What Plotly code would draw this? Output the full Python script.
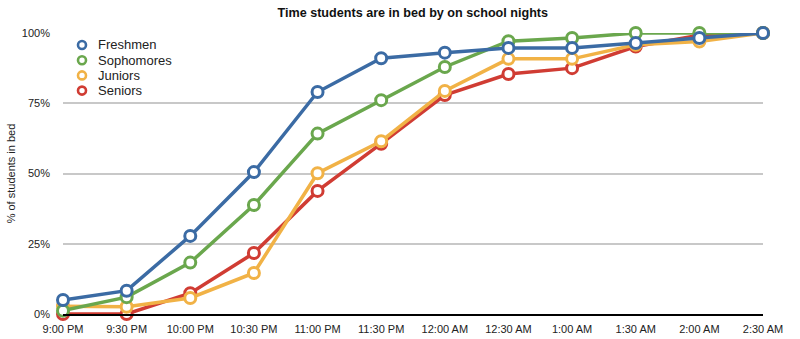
import plotly.graph_objects as go

# Bedtime slots on school nights
times = ["9:00 PM", "9:30 PM", "10:00 PM", "10:30 PM", "11:00 PM", "11:30 PM",
         "12:00 AM", "12:30 AM", "1:00 AM", "1:30 AM", "2:00 AM", "2:30 AM"]

# Cumulative share of students in bed (%)
freshmen = [5, 8.3, 27.8, 50.5, 79, 91, 93, 94.7, 94.7, 96.4, 98.2, 100]
sophomores = [1.2, 6, 18.3, 38.8, 64.2, 76.1, 87.9, 97.1, 98.2, 100, 100, 100]
juniors = [2.8, 2.6, 5.7, 14.6, 50.1, 61.5, 79.4, 90.8, 90.8, 95.8, 97, 100]
seniors = [0, 0, 7.4, 21.7, 43.8, 60.6, 77.9, 85.4, 87.5, 95.2, 99.2, 100]

series = [
    ("Freshmen", freshmen, "#3b6ba4"),
    ("Sophomores", sophomores, "#6aa74d"),
    ("Juniors", juniors, "#f1b246"),
    ("Seniors", seniors, "#d03c33"),
]

xs = list(range(len(times)))

# Plot-area geometry (pixels)
W, H = 800, 339
ML, MR, MT, MB = 63, 37, 33, 25
PW, PH = W - ML - MR, H - MT - MB

fig = go.Figure()
# Draw from last to first so Freshmen sits on top
for name, vals, color in reversed(series):
    fig.add_trace(go.Scatter(
        x=xs, y=vals, name=name, mode="lines+markers", showlegend=False,
        line=dict(color=color, width=3.5),
        marker=dict(symbol="circle", size=11, color="white",
                    line=dict(color=color, width=3)),
        cliponaxis=False,
    ))

# Compact legend: ring swatch + label per series
for i, (name, _, color) in enumerate(series):
    py = (H - MB - (45 + 15.2 * i)) / PH
    px = (82 - ML) / PW
    fig.add_shape(type="circle", xref="paper", yref="paper",
                  xsizemode="pixel", ysizemode="pixel",
                  xanchor=px, yanchor=py, x0=-4, x1=4, y0=-4, y1=4,
                  line=dict(color=color, width=2.6), fillcolor="white")
    fig.add_annotation(xref="paper", yref="paper", x=(96 - ML) / PW, y=py,
                       xanchor="left", yanchor="middle", showarrow=False,
                       text=name, font=dict(size=13, color="#222"))

fig.update_layout(
    width=W, height=H,
    margin=dict(l=ML, r=MR, t=MT, b=MB),
    paper_bgcolor="white", plot_bgcolor="white",
    font=dict(family="Liberation Sans, Arial, sans-serif", size=11, color="#222"),
    title=dict(text="<b>Time students are in bed by on school nights</b>",
               x=0.516, xanchor="center", y=0.962, yanchor="middle",
               font=dict(size=12.6, color="#111")),
    showlegend=False,
)

fig.update_xaxes(
    tickmode="array", tickvals=xs, ticktext=times,
    range=[0, len(times) - 1], showgrid=False, zeroline=False,
    showline=True, linecolor="black", linewidth=1.5,
    ticks="", ticklabelstandoff=4, automargin=False,
    tickfont=dict(size=11, color="#222"),
)
fig.update_yaxes(
    range=[0, 100], tickvals=[0, 25, 50, 75, 100],
    ticktext=["0%", "25%", "50%", "75%", "100%"],
    showgrid=True, gridcolor="#c8c8c8", gridwidth=1.5, zeroline=False,
    showline=False, ticks="", ticklabelstandoff=12, automargin=False,
    tickfont=dict(size=11, color="#222"),
    title=dict(text="% of students in bed", font=dict(size=11, color="#222"), standoff=4),
)

fig.write_html("out.html")
